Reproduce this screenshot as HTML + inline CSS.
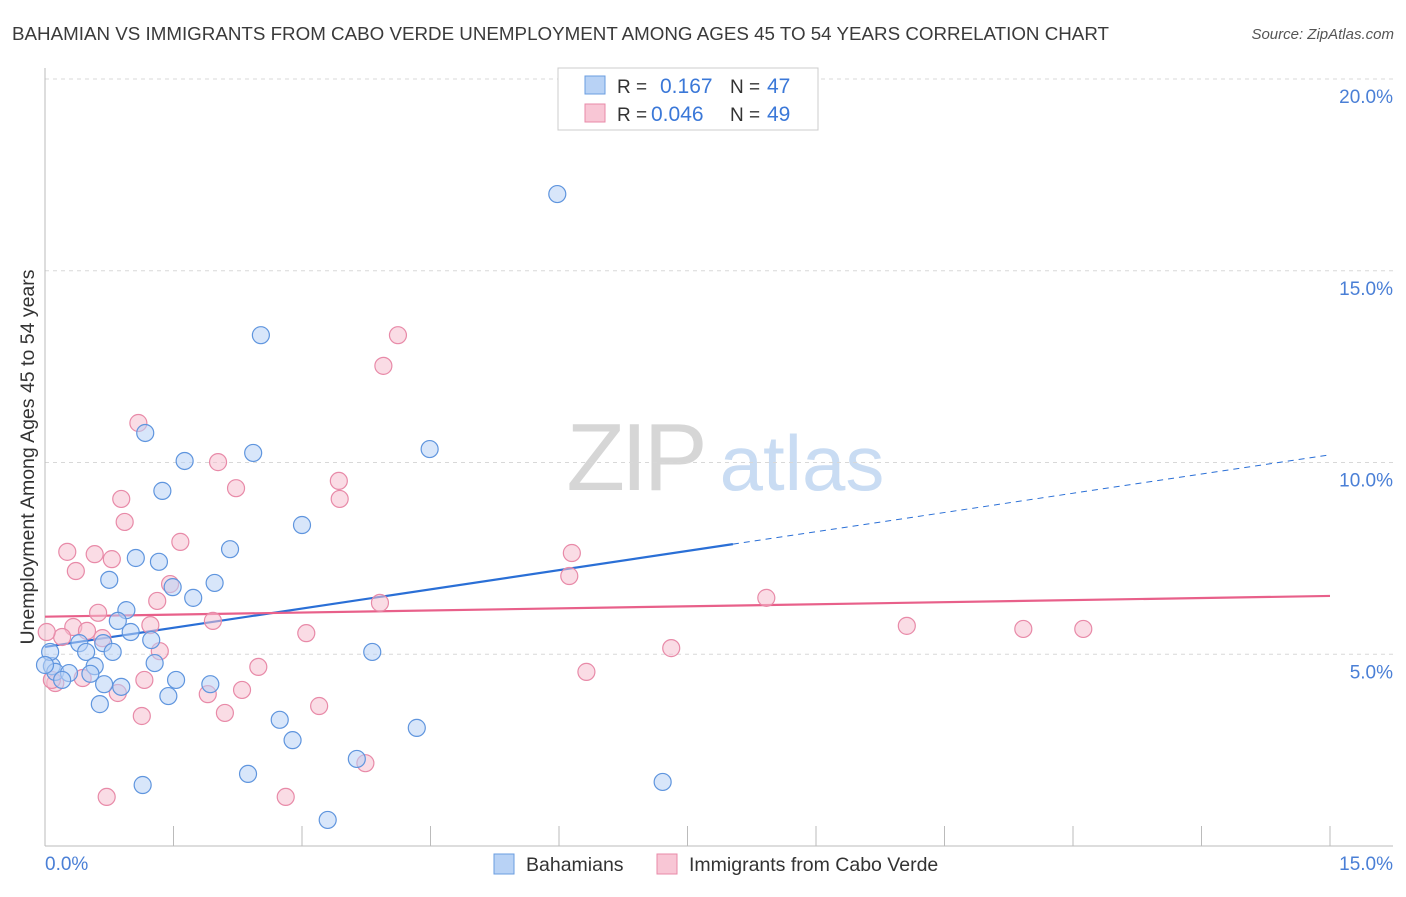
<!DOCTYPE html>
<html><head><meta charset="utf-8"><style>
body{margin:0;background:#fff;font-family:"Liberation Sans",sans-serif;}
svg text{font-family:"Liberation Sans",sans-serif;}
</style></head><body>
<svg id="chart" width="1406" height="892" viewBox="0 0 1406 892" xmlns="http://www.w3.org/2000/svg">
<text x="12" y="40" font-size="18" fill="#3a3a3a" textLength="1097" lengthAdjust="spacingAndGlyphs">BAHAMIAN VS IMMIGRANTS FROM CABO VERDE UNEMPLOYMENT AMONG AGES 45 TO 54 YEARS CORRELATION CHART</text>
<text x="1394" y="39" font-size="15" fill="#555" font-style="italic" text-anchor="end">Source: ZipAtlas.com</text>
<g>
<text x="635" y="490" font-size="96" fill="#d6d6d6" font-family="Liberation Serif, serif" text-anchor="middle" letter-spacing="-4">ZIP</text>
<text x="802" y="490" font-size="78" fill="#c9dcf3" text-anchor="middle">atlas</text>
</g>
<g id="grid"></g>
<g id="axes"></g>
<g id="lines"></g>
<g id="points"></g>
<text transform="translate(34,457) rotate(-90)" font-size="19.5" fill="#333" text-anchor="middle">Unemployment Among Ages 45 to 54 years</text>
<text x="45" y="870" font-size="19" fill="#4a7fd6">0.0%</text>
<text x="1393" y="870" font-size="19" fill="#4a7fd6" text-anchor="end">15.0%</text>
<g>
<rect x="558" y="68" width="260" height="62" fill="#fff" stroke="#ccc"/>
<rect x="585" y="76" width="20" height="18" fill="#b8d2f5" stroke="#6a9de0"/>
<rect x="585" y="104" width="20" height="18" fill="#f8c6d5" stroke="#e88aa8"/>
<text x="617" y="93" font-size="19" fill="#333">R = </text><text x="660" y="93" font-size="21" fill="#3b78d8">0.167</text>
<text x="730" y="93" font-size="19" fill="#333">N = </text><text x="767" y="93" font-size="21" fill="#3b78d8">47</text>
<text x="617" y="121" font-size="19" fill="#333">R = </text><text x="651" y="121" font-size="21" fill="#3b78d8">0.046</text>
<text x="730" y="121" font-size="19" fill="#333">N = </text><text x="767" y="121" font-size="21" fill="#3b78d8">49</text>
</g>
<g>
<rect x="494" y="854" width="20" height="20" fill="#b8d2f5" stroke="#6a9de0"/>
<text x="526" y="871" font-size="19.5" fill="#333">Bahamians</text>
<rect x="657" y="854" width="20" height="20" fill="#f8c6d5" stroke="#e88aa8"/>
<text x="689" y="871" font-size="19.5" fill="#333">Immigrants from Cabo Verde</text>
</g>
</svg>
<script>
const yTicks=[5,10,15,20];
const yTickLabels=["5.0%","10.0%","15.0%","20.0%"];
const xTicks=[0,1.5,3,4.5,6,7.5,9,10.5,12,13.5,15];
const blueX=[5.98,2.52,1.17,4.49,1.63,2.43,1.37,3.00,2.16,1.06,1.33,0.75,1.98,1.49,1.73,0.95,0.85,1.00,1.24,0.40,0.68,0.48,0.79,3.82,1.28,0.58,0.08,0.12,0.28,0.53,0.20,0.69,0.89,1.93,1.53,1.44,0.64,2.74,2.89,4.34,3.64,2.37,1.14,7.21,3.30,0.06,0.0];
const blueY=[17.0,13.32,10.77,10.35,10.04,10.25,9.26,8.37,7.74,7.51,7.41,6.94,6.86,6.75,6.47,6.15,5.87,5.58,5.37,5.29,5.29,5.06,5.06,5.06,4.77,4.69,4.69,4.54,4.51,4.49,4.33,4.22,4.15,4.22,4.33,3.91,3.70,3.29,2.76,3.08,2.27,1.88,1.59,1.67,0.68,5.06,4.72];
const pinkX=[4.12,3.95,1.09,2.02,3.43,0.89,2.23,3.44,0.93,1.58,0.26,0.58,6.15,0.78,0.36,6.12,1.46,1.31,3.91,8.42,0.62,1.96,1.23,0.33,0.49,10.06,11.42,12.12,3.05,0.20,0.02,0.67,1.34,7.31,2.49,6.32,0.44,0.12,1.16,0.85,2.30,1.90,2.10,1.13,3.20,3.74,0.72,2.81,0.08];
const pinkY=[13.32,12.52,11.03,10.01,9.52,9.05,9.33,9.05,8.45,7.93,7.67,7.61,7.64,7.48,7.17,7.04,6.83,6.39,6.34,6.47,6.08,5.87,5.76,5.71,5.61,5.74,5.66,5.66,5.55,5.45,5.58,5.42,5.08,5.16,4.67,4.54,4.38,4.25,4.33,3.99,4.07,3.96,3.47,3.39,3.65,2.16,1.28,1.28,4.33];
const blueTrend=[5.19,10.2];const blueSolidEnd=8.03;
const pinkTrend=[5.98,6.52];
const NS="http://www.w3.org/2000/svg";
function sx(v){return 45+v*(1285/15);}
function sy(v){return 846-v*(767/20);}
function mk(t,a,p){const e=document.createElementNS(NS,t);for(const k in a)e.setAttribute(k,a[k]);p.appendChild(e);return e;}
const grid=document.getElementById('grid');
yTicks.forEach((t,i)=>{
 const l=mk('line',{x1:45,x2:1393,y1:sy(t),y2:sy(t),stroke:'#d8d8d8','stroke-dasharray':'4,4'},grid);
 
 
 const tx=mk('text',{x:1393,y:sy(t)+24,'font-size':19,fill:'#4a7fd6','text-anchor':'end'},grid);
 tx.textContent=yTickLabels[i];
 
 
});
const axes=document.getElementById('axes');
const ya=mk('line',{x1:45,x2:45,y1:68,y2:846,stroke:'#bbb'},axes);


const xa=mk('line',{x1:45,x2:1393,y1:846,y2:846,stroke:'#bbb'},axes);


xTicks.forEach(t=>{
 const k=mk('line',{x1:sx(t),x2:sx(t),y1:826,y2:846,stroke:'#bbb'},axes);
 
 
});
const pts=document.getElementById('points');
function dots(xs,ys,fill,stroke,name){xs.forEach((x,i)=>{
 const c=mk('circle',{cx:sx(x),cy:sy(ys[i]),r:8.5,fill:fill,'fill-opacity':0.55,stroke:stroke,'stroke-width':1.2},pts);
 
 
});}
dots(pinkX,pinkY,'#f6bfd0','#e88aa8','cabo-verde-point');
dots(blueX,blueY,'#b8d2f5','#5f95de','bahamian-point');
const ln=document.getElementById('lines');
function bAt(x){return blueTrend[0]+(blueTrend[1]-blueTrend[0])*x/15;}
const b1=mk('line',{x1:sx(0),y1:sy(bAt(0)),x2:sx(blueSolidEnd),y2:sy(bAt(blueSolidEnd)),stroke:'#2a6fd6','stroke-width':2.2},ln);


const b2=mk('line',{x1:sx(blueSolidEnd),y1:sy(bAt(blueSolidEnd)),x2:sx(15),y2:sy(bAt(15)),stroke:'#2a6fd6','stroke-width':1,'stroke-dasharray':'6,5'},ln);


const p1=mk('line',{x1:sx(0),y1:sy(pinkTrend[0]),x2:sx(15),y2:sy(pinkTrend[1]),stroke:'#e8608a','stroke-width':2.2},ln);


</script>
</body></html>
